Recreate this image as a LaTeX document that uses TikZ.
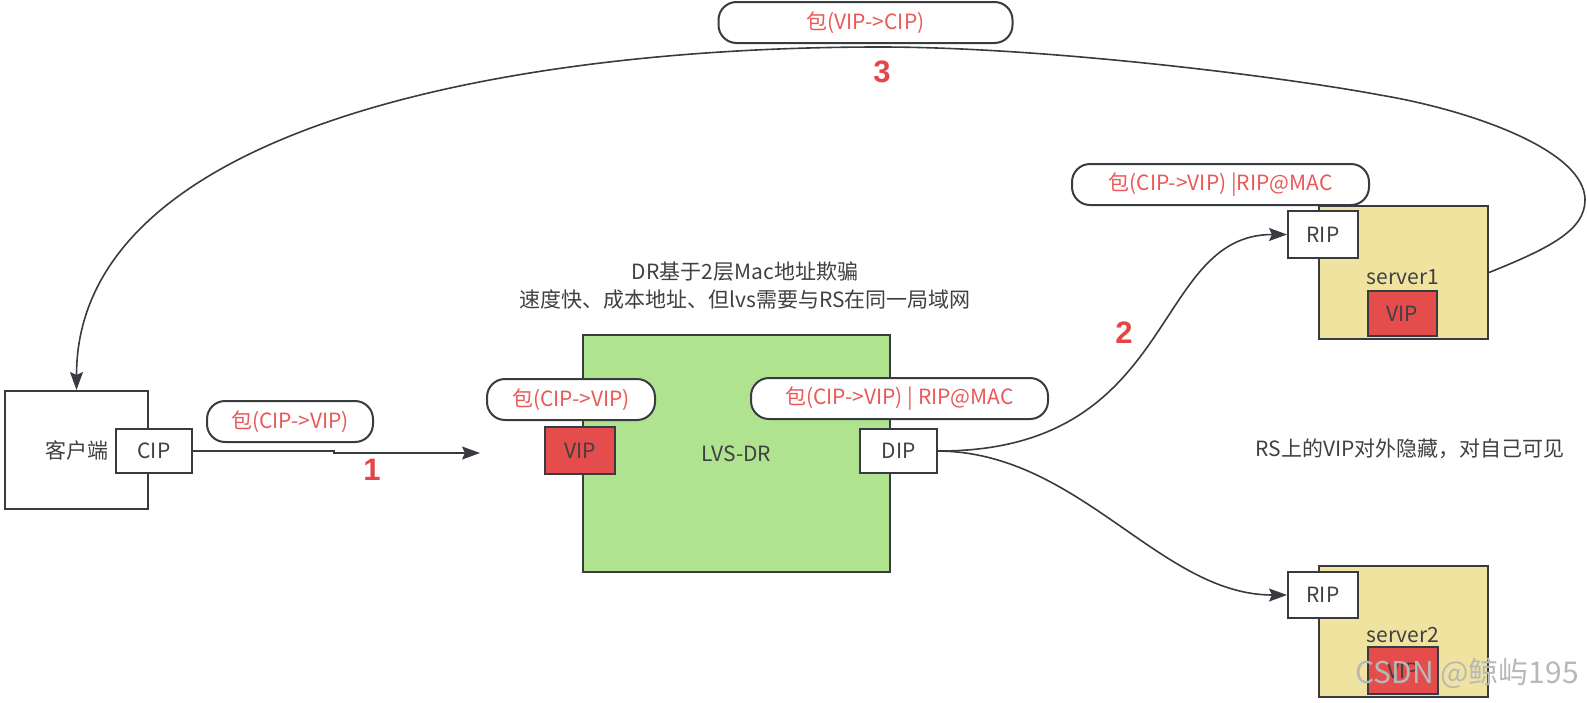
\documentclass[tikz,border=0pt]{standalone}
\usepackage{fontspec}
\setmainfont{Noto Sans CJK SC}
\newfontfamily\numfont{Liberation Sans}
\usetikzlibrary{arrows.meta}
\definecolor{strokec}{RGB}{56,60,64}
\definecolor{txtc}{RGB}{64,64,64}
\definecolor{pilltxt}{RGB}{234,88,88}
\definecolor{numred}{RGB}{229,69,69}
\definecolor{greenf}{RGB}{176,227,143}
\definecolor{serverf}{RGB}{240,227,160}
\definecolor{redf}{RGB}{229,76,76}
\begin{document}
\begin{tikzpicture}[x=1pt,y=-1pt,
  box/.style={draw=strokec, line width=2pt, inner sep=0pt, text=txtc, font=\fontsize{21}{25}\selectfont},
  pill/.style={draw=strokec, fill=white, line width=2pt, rounded corners=18pt, inner sep=0pt, text=pilltxt, font=\fontsize{21}{25}\selectfont},
  plain/.style={inner sep=0pt, text=txtc, font=\fontsize{21}{25}\selectfont},
  num/.style={inner sep=0pt, text=numred, font=\numfont\bfseries\fontsize{31}{33}\selectfont},
  conn/.style={draw=strokec, line width=1.6pt, -{Stealth[length=18pt,width=13pt,inset=3pt]}}]
\useasboundingbox (0,0) rectangle (1587,702);

% client
\node[box, fill=white, minimum width=143pt, minimum height=118pt] (client) at (76.5,450) {客户端};
\node[box, fill=white, minimum width=76pt, minimum height=44pt] (cip) at (154,451) {CIP};
\node[pill, minimum width=166pt, minimum height=41pt] (p1) at (290,421.5) {包(CIP->VIP)};
\coordinate (a1end) at (480,453);
\node[num] (n1) at (372,470) {1};

% LVS-DR
\node[plain, align=center, font=\fontsize{21}{28}\selectfont] (title) at (745,286) {DR基于2层Mac地址欺骗\\速度快、成本地址、但lvs需要与RS在同一局域网};
\node[box, fill=greenf, minimum width=307pt, minimum height=237pt] (lvs) at (736.5,453.5) {LVS-DR};
\node[pill, minimum width=168pt, minimum height=41pt] (p2) at (571,399.5) {包(CIP->VIP)};
\node[box, fill=redf, minimum width=70pt, minimum height=47pt] (vip) at (580,450.5) {VIP};
\node[pill, minimum width=297pt, minimum height=41pt] (p3) at (899.5,398.5) {包(CIP->VIP) | RIP@MAC};
\node[box, fill=white, minimum width=77pt, minimum height=44pt] (dip) at (898.5,451) {DIP};
\node[num] (n2) at (1124,333) {2};

% server1
\node[box, fill=serverf, minimum width=169pt, minimum height=133pt] (s1) at (1403.5,272.5) {};
\node[plain] (s1t) at (1403,277) {server1};
\node[box, fill=redf, minimum width=69pt, minimum height=45pt] (vip1) at (1402.5,313.5) {VIP};
\node[box, fill=white, minimum width=70pt, minimum height=47pt] (rip1) at (1323,234.5) {RIP};
\node[pill, minimum width=297pt, minimum height=41pt] (p4) at (1220.5,184.5) {包(CIP->VIP) |RIP@MAC};

% server2
\node[box, fill=serverf, minimum width=169pt, minimum height=131pt] (s2) at (1403.5,631.5) {};
\node[plain] (s2t) at (1403,635) {server2};
\node[box, fill=redf, minimum width=70pt, minimum height=47pt] (vip2) at (1403,670.5) {VIP};
\node[box, fill=white, minimum width=70pt, minimum height=46pt] (rip2) at (1323,595) {RIP};

\node[plain] (rs) at (1410,449) {RS上的VIP对外隐藏，对自己可见};

% top
\node[pill, minimum width=294pt, minimum height=41pt] (p5) at (865.5,22.5) {包(VIP->CIP)};
\node[num] (n3) at (882,72) {3};

% connectors
\draw[conn] (cip.east) -- ++(141,0) |- (a1end);
\draw[conn] (dip.east) .. controls (1180,452) and (1150,234.5) .. (rip1.west);
\draw[conn] (dip.east) .. controls (1080,452) and (1160,595) .. (rip2.west);
\coordinate (r3a) at (1585,200);
\coordinate (r3b) at (1380,95);
\coordinate (r3c) at (880,47);
\draw[conn] (s1.east) .. controls (1550,248) and (1585,230) .. (r3a)
  .. controls (1585,150) and (1470,110) .. (r3b)
  .. controls (1290,78) and (1050,47) .. (r3c)
  .. controls (500,47) and (76.5,130) .. (client.north);

% watermark
\node[inner sep=0pt, text=black!28, font=\fontsize{30}{32}\selectfont] (wm) at (1467,673) {CSDN @鲸屿195};
\end{tikzpicture}
\end{document}
